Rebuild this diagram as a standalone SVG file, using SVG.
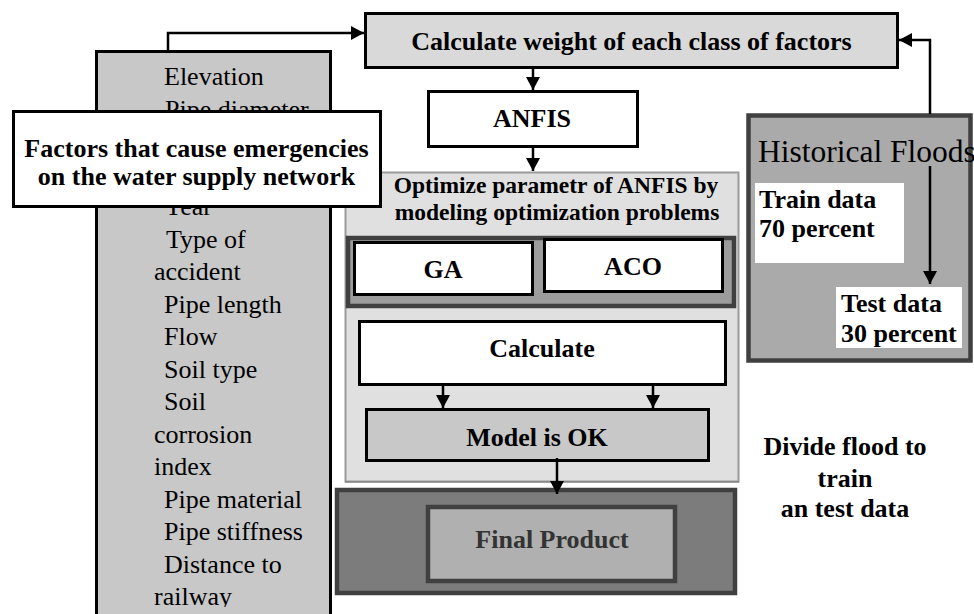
<svg xmlns="http://www.w3.org/2000/svg" width="974" height="614" viewBox="0 0 974 614">
  <style>
    .b { font-family: "Liberation Serif", "Times New Roman", serif; font-weight: bold; font-size: 26px; fill: #000; }
    .r { font-family: "Liberation Serif", "Times New Roman", serif; font-size: 26px; fill: #000; }
    .mid { text-anchor: middle; }
    .edge { fill: none; stroke: #000; stroke-width: 2.5; }
    .box { stroke: #000; stroke-width: 3; }
    .dark { stroke: #404040; stroke-width: 4.5; }
  </style>
  <defs>
    <marker id="arrow" markerUnits="userSpaceOnUse" markerWidth="14" markerHeight="14" refX="13" refY="7" orient="auto">
      <path d="M0,0 L13,7 L0,14 z" fill="#000"/>
    </marker>
    <clipPath id="listClip">
      <rect x="98" y="53" width="231" height="554"/>
    </clipPath>
  </defs>
  <rect width="974" height="614" fill="#fff"/>

  <!-- factor list panel -->
  <g id="factorList">
    <rect class="box" x="96.5" y="51.5" width="234" height="580" fill="#c8c8c8"/>
    <g class="r" clip-path="url(#listClip)">
      <text x="164" y="85">Elevation</text>
      <text x="165" y="117.5">Pipe diameter</text>
      <text x="164" y="215">Year</text>
      <text x="166" y="248">Type of</text>
      <text x="154" y="280">accident</text>
      <text x="164" y="313">Pipe length</text>
      <text x="164" y="345">Flow</text>
      <text x="164" y="378">Soil type</text>
      <text x="164" y="410">Soil</text>
      <text x="154" y="443">corrosion</text>
      <text x="154" y="475">index</text>
      <text x="164" y="508">Pipe material</text>
      <text x="164" y="540">Pipe stiffness</text>
      <text x="164" y="573">Distance to</text>
      <text x="154" y="605">railway</text>
    </g>
  </g>

  <g id="weights">
    <rect class="box" x="365.5" y="13.5" width="532" height="54" fill="#d9d9d9"/>
    <text class="b mid" x="631.5" y="50">Calculate weight of each class of factors</text>
  </g>

  <g id="anfis">
    <rect class="box" x="428.5" y="91.5" width="209" height="55" fill="#fff"/>
    <text class="b mid" x="532" y="127">ANFIS</text>
  </g>

  <!-- optimisation block -->
  <g id="optimize">
    <rect x="345.5" y="172.5" width="393" height="309" fill="#e0e0e0" stroke="#9a9a9a" stroke-width="2"/>
    <line x1="345.5" y1="482" x2="738.5" y2="482" stroke="#777" stroke-width="2" stroke-dasharray="1 1"/>
    <text class="b mid" x="556" y="193" style="font-size:23.5px">Optimize parametr of ANFIS by</text>
    <text class="b mid" x="557" y="220" style="font-size:23.5px">modeling optimization problems</text>
  </g>

  <g id="algorithms">
    <rect class="dark" x="348" y="238" width="386" height="68" fill="#9c9c9c"/>
  </g>

  <g id="ga">
    <rect class="box" x="354.5" y="242.5" width="178" height="52" fill="#fff"/>
    <text class="b mid" x="443" y="278">GA</text>
  </g>

  <g id="aco">
    <rect class="box" x="544.5" y="239.5" width="178" height="52" fill="#fff"/>
    <text class="b mid" x="633" y="275">ACO</text>
  </g>

  <g id="calculate">
    <rect class="box" x="359.5" y="321.5" width="366" height="63" fill="#fff"/>
    <text class="b mid" x="542" y="357">Calculate</text>
  </g>

  <g id="modelOk">
    <rect class="box" x="366.5" y="409.5" width="342" height="51" fill="#c8c8c8"/>
    <text class="b mid" x="537" y="446">Model is OK</text>
  </g>

  <g id="finalProduct">
    <rect class="dark" x="337" y="490" width="398" height="103" fill="#7c7c7c"/>
    <rect class="dark" x="428" y="507" width="247" height="74" fill="#b0b0b0"/>
    <text class="b mid" x="552" y="548" style="fill:#333">Final Product</text>
  </g>

  <!-- title box laid over the list and the optimisation block -->
  <g id="factors">
    <rect class="box" x="13.5" y="111.5" width="367" height="95" fill="#fff"/>
    <text class="b mid" x="196.5" y="157">Factors that cause emergencies</text>
    <text class="b mid" x="196.5" y="185">on the water supply network</text>
  </g>

  <!-- flood data split -->
  <g id="historicalFloods">
    <rect class="dark" x="748.5" y="115.5" width="222" height="245" fill="#aaaaaa" stroke-width="5"/>
    <text class="r" x="758" y="162" style="font-size:31.5px">Historical Floods</text>
  </g>

  <g id="trainData">
    <rect x="755" y="183" width="149" height="80" fill="#fff"/>
    <text class="b" x="759" y="208">Train data</text>
    <text class="b" x="759" y="237">70 percent</text>
  </g>

  <g id="testData">
    <rect x="836" y="287" width="126" height="61" fill="#fff"/>
    <text class="b" x="841" y="312">Test data</text>
    <text class="b" x="841" y="342">30 percent</text>
  </g>

  <g id="divideNote">
    <text class="b mid" x="845" y="455">Divide flood to</text>
    <text class="b mid" x="845" y="487">train</text>
    <text class="b mid" x="845" y="517">an test data</text>
  </g>

  <!-- connectors -->
  <g id="connectors">
    <path class="edge" d="M168,51 V33 H364" marker-end="url(#arrow)"/>
    <path class="edge" d="M930,114 V40 H899" marker-end="url(#arrow)"/>
    <path class="edge" d="M533,68 V90" marker-end="url(#arrow)"/>
    <path class="edge" d="M533,147 V171" marker-end="url(#arrow)"/>
    <path class="edge" d="M443,385 V408" marker-end="url(#arrow)"/>
    <path class="edge" d="M653,385 V408" marker-end="url(#arrow)"/>
    <path class="edge" d="M557,458 V494" marker-end="url(#arrow)"/>
    <path class="edge" d="M930,166 V284" marker-end="url(#arrow)"/>
  </g>
</svg>
